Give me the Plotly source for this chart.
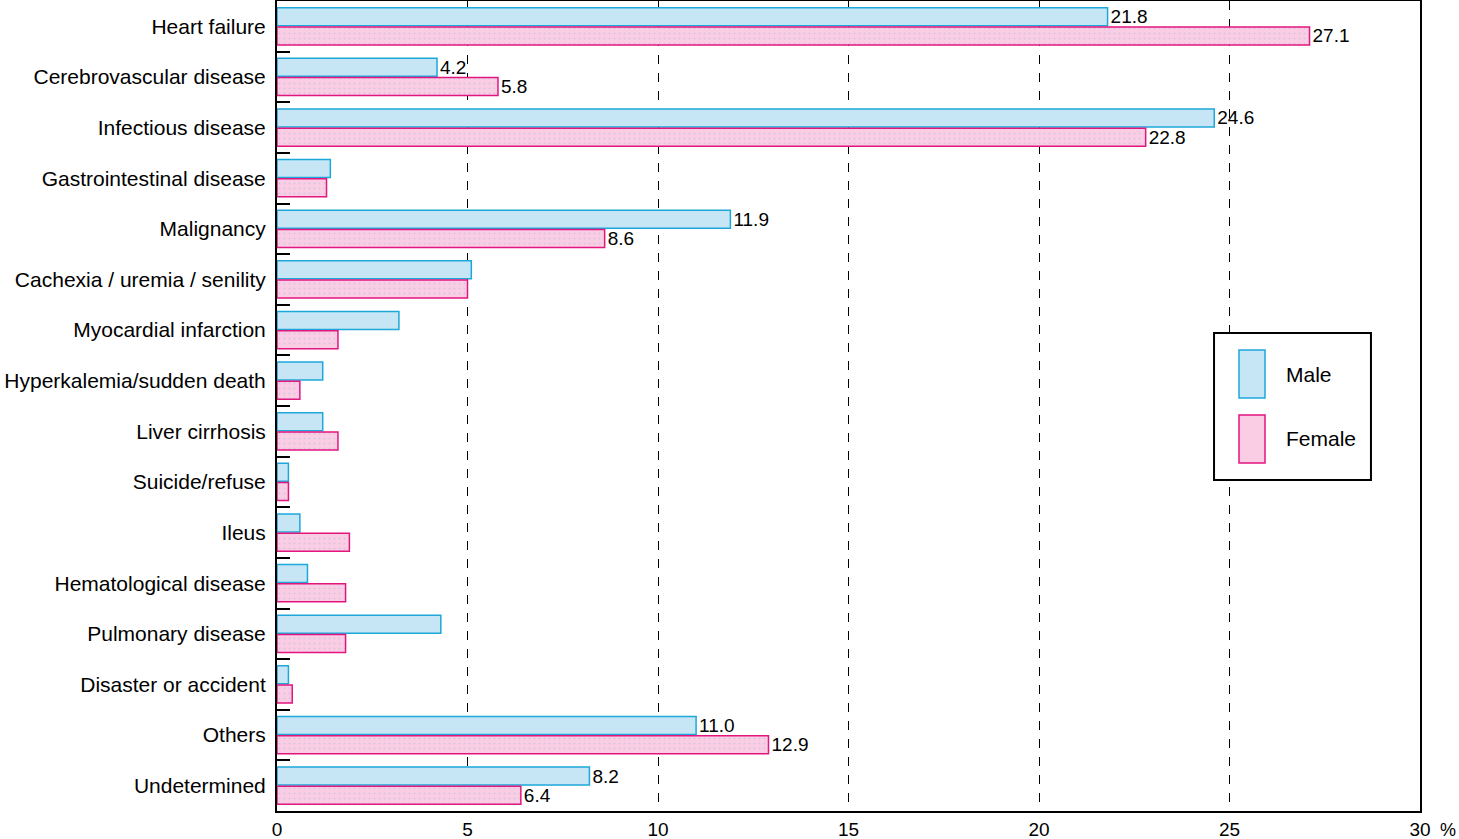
import plotly.graph_objects as go

categories = [
    "Heart failure", "Cerebrovascular disease", "Infectious disease",
    "Gastrointestinal disease", "Malignancy", "Cachexia / uremia / senility",
    "Myocardial infarction", "Hyperkalemia/sudden death", "Liver cirrhosis",
    "Suicide/refuse", "Ileus", "Hematological disease", "Pulmonary disease",
    "Disaster or accident", "Others", "Undetermined",
]
male_values = [21.8, 4.2, 24.6, 1.4, 11.9, 5.1, 3.2, 1.2, 1.2, 0.3, 0.6, 0.8, 4.3, 0.3, 11.0, 8.2]
female_values = [27.1, 5.8, 22.8, 1.3, 8.6, 5.0, 1.6, 0.6, 1.6, 0.3, 1.9, 1.8, 1.8, 0.4, 12.9, 6.4]
male_labels = ["21.8", "4.2", "24.6", "", "11.9", "", "", "", "", "", "", "", "", "", "11.0", "8.2"]
female_labels = ["27.1", "5.8", "22.8", "", "8.6", "", "", "", "", "", "", "", "", "", "12.9", "6.4"]
x_ticks = [0, 5, 10, 15, 20, 25, 30]

MALE_FILL, MALE_LINE = "#c6e6f6", "#1ea7d9"
FEMALE_FILL, FEMALE_LINE = "#fbcde4", "#e2167f"
FONT = "Liberation Sans, Arial, sans-serif"

fig = go.Figure()
fig.add_trace(go.Bar(
    y=categories, x=male_values, orientation="h", name="Male",
    marker=dict(color=MALE_FILL, line=dict(color=MALE_LINE, width=1.5)),
    text=male_labels, textposition="outside", cliponaxis=False, constraintext="none",
    textfont=dict(size=19, color="black", family=FONT),
))
fig.add_trace(go.Bar(
    y=categories, x=female_values, orientation="h", name="Female",
    marker=dict(color=FEMALE_FILL, line=dict(color=FEMALE_LINE, width=1.5),
                pattern=dict(shape=".", fgcolor="#a8c0d4", size=5, solidity=0.12, fillmode="overlay")),
    text=female_labels, textposition="outside", cliponaxis=False, constraintext="none",
    textfont=dict(size=19, color="black", family=FONT),
))

fig.update_layout(
    width=1459, height=839,
    margin=dict(l=277, r=39, t=1, b=28),
    paper_bgcolor="white", plot_bgcolor="white",
    barmode="group", bargap=0.24, bargroupgap=0.06,
    showlegend=False,
    font=dict(family=FONT, color="black"),
)
fig.update_xaxes(
    range=[0, 30], tickvals=x_ticks, ticktext=[str(v) for v in x_ticks],
    showgrid=True, gridcolor="black", gridwidth=1, griddash="dash",
    showline=True, linecolor="black", linewidth=2, mirror=True,
    ticks="", tickfont=dict(size=19, family=FONT, color="black"),
    zeroline=False, automargin=False,
)
fig.update_yaxes(
    autorange="reversed", categoryorder="array", categoryarray=categories,
    showline=True, linecolor="black", linewidth=2, mirror=True,
    ticks="inside", tickson="boundaries", ticklen=13, tickwidth=1.5, tickcolor="black",
    tickfont=dict(size=21, family=FONT, color="black"),
    showgrid=False, automargin=False, ticklabelstandoff=5,
)

# "%" unit next to the last x tick
fig.add_annotation(x=1.0, y=0, xref="paper", yref="paper", xshift=18, yshift=-19,
                   text="%", showarrow=False, xanchor="left", yanchor="middle",
                   font=dict(size=18, family=FONT, color="black"))

# Custom legend box
lx0, lx1, ly0, ly1 = 0.8198, 0.9571, 0.4086, 0.590
fig.add_shape(type="rect", xref="paper", yref="paper", x0=lx0, x1=lx1, y0=ly0, y1=ly1,
              line=dict(color="black", width=2), fillcolor="white", layer="above")
sw_x0, sw_x1 = (1239 - 277) / 1143, (1265 - 277) / 1143
for (top, bot, fill, line, label, ty) in [
    (350, 398, MALE_FILL, MALE_LINE, "Male", 375),
    (415, 463, FEMALE_FILL, FEMALE_LINE, "Female", 438),
]:
    fig.add_shape(type="rect", xref="paper", yref="paper",
                  x0=sw_x0, x1=sw_x1, y0=(811 - bot) / 810, y1=(811 - top) / 810,
                  line=dict(color=line, width=1.5), fillcolor=fill, layer="above")
    fig.add_annotation(x=(1284 - 277) / 1143, y=(811 - ty) / 810, xref="paper", yref="paper",
                       text=label, showarrow=False, xanchor="left", yanchor="middle",
                       font=dict(size=21, family=FONT, color="black"))

fig.write_html(
    "out.html",
    config={"displayModeBar": False},
    post_script="document.body.style.margin='0';document.body.style.overflow='hidden';",
)
